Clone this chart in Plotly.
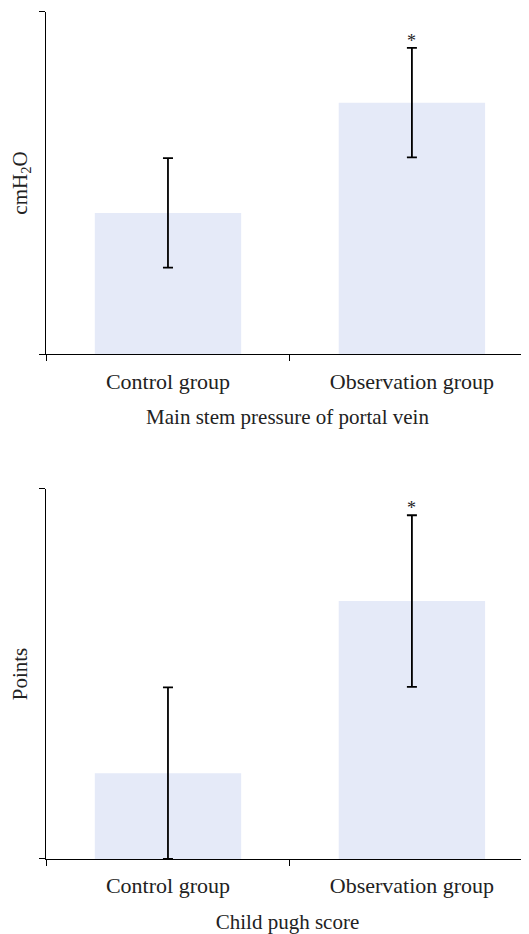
import plotly.graph_objects as go
from plotly.subplots import make_subplots

categories = ["Control group", "Observation group"]
pressure_mean = [16.5, 29.4]
pressure_sd = [6.4, 6.4]
pressure_sig = ["", "*"]
pugh_mean = [2.32, 6.97]
pugh_sd = [2.32, 2.32]
pugh_sig = ["", "*"]
pressure_max = 40
pugh_max = 10

FONT = "Liberation Serif"
BAR = "#E5EAF8"
TXT = "#222"

fig = make_subplots(rows=2, cols=1, vertical_spacing=0.1)

panels = [
    (pressure_mean, pressure_sd, pressure_sig, pressure_max, "cmH<sub>2</sub>O", "Main stem pressure of portal vein"),
    (pugh_mean, pugh_sd, pugh_sig, pugh_max, "Points", "Child pugh score"),
]
for i, (m, s, sig, ymax, ytitle, xtitle) in enumerate(panels, start=1):
    fig.add_trace(go.Bar(
        x=categories, y=m, width=0.6, marker=dict(color=BAR, line=dict(width=0)),
        error_y=dict(type="data", array=s, visible=True, color="black", thickness=1.8, width=5),
        showlegend=False), row=i, col=1)
    for c, v, e, t in zip(categories, m, s, sig):
        if t:
            fig.add_annotation(x=c, y=v + e, text=t, showarrow=False, yanchor="bottom",
                               yshift=-5, font=dict(family=FONT, size=18, color=TXT),
                               xref=f"x{i}" if i > 1 else "x", yref=f"y{i}" if i > 1 else "y")
    fig.update_yaxes(range=[0, ymax], tickvals=[0, ymax], showticklabels=False, ticks="outside",
                     ticklen=6, tickcolor="black", showline=True, linecolor="black", linewidth=1.2,
                     showgrid=False, zeroline=False, automargin=False,
                     title=dict(text=ytitle, font=dict(family=FONT, size=21, color=TXT), standoff=8),
                     row=i, col=1)
    fig.update_xaxes(range=[-0.5, 1.48], tickson="boundaries", ticks="outside", ticklen=6,
                     tickcolor="black", showline=True, linecolor="black", linewidth=1.2,
                     showgrid=False, automargin=False, ticklabelstandoff=7,
                     tickfont=dict(family=FONT, size=22, color=TXT),
                     title=dict(text=xtitle, font=dict(family=FONT, size=21, color=TXT), standoff=16),
                     row=i, col=1)

fig.update_layout(
    width=521, height=926,
    margin=dict(l=38, r=0, t=0, b=0),
    plot_bgcolor="white", paper_bgcolor="white",
    yaxis=dict(domain=[0.6263, 0.9957]),
    yaxis2=dict(domain=[0.0810, 0.4806]),
)
fig.write_html("out.html")
